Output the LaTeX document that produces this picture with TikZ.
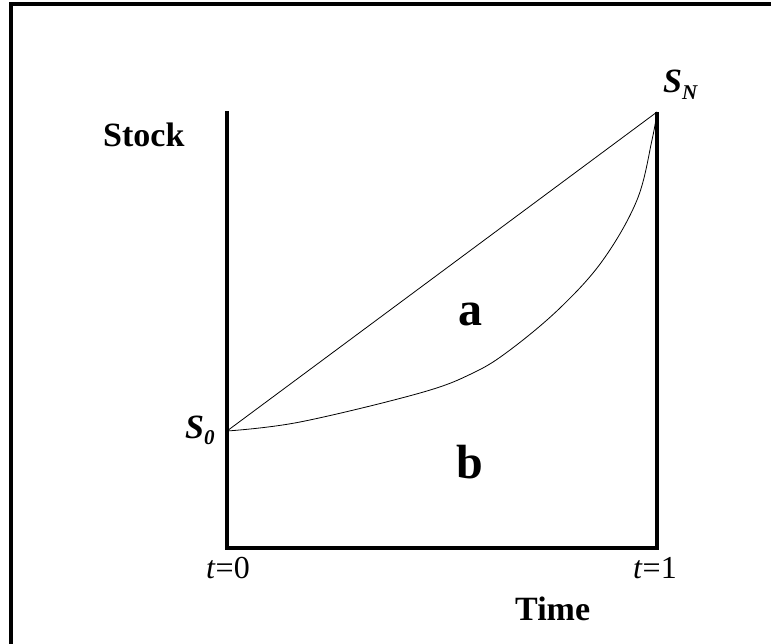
\documentclass[tikz,border=0pt]{standalone}
\usepackage{fontspec}
\setmainfont{Liberation Serif}
\usetikzlibrary{positioning}

\begin{document}
\begin{tikzpicture}[x=1pt,y=-1pt,
  axis/.style={line width=4pt, line join=miter},
  graph/.style={line width=0.8pt},
  lbl/.style={inner sep=0pt, anchor=base west},
  big/.style={lbl, font=\bfseries\fontsize{34}{34}\selectfont},
  area/.style={lbl, font=\bfseries\fontsize{48}{48}\selectfont},
  tick/.style={lbl, font=\fontsize{32}{32}\selectfont}]
\useasboundingbox (0,0) rectangle (771,644);
% frame (left and top only)
\draw[axis] (11,644) -- (11,4.5) -- (771,4.5);
% corners
\coordinate (ytop) at (227,111);
\coordinate (o) at (227,548);
\coordinate (e) at (657,548);
\coordinate (sn) at (657,112);
\coordinate (s0) at (227,431);
\draw[axis] (ytop) -- (o) -- (e) -- (sn);
% the two paths
\draw[graph] (s0) -- (sn);
\draw[graph] plot[smooth, tension=0.6] coordinates {(227,431) (300,422) (420,393) (473,373) (510,350) (560,308) (603,260) (637,200) (652,140) (657,112)};
% labels
\node[big] (stock) at (103,147) {Stock};
\node[big] (time) at (515,620) {Time};
\node[area] (a) at (458,325) {a};
\node[area] (b) at (456,478) {b};
\node[tick] (t0) at (206,578) {\textit{t}=0};
\node[tick] (t1) at (633,578) {\textit{t}=1};
\node[big] (S0) at (185,438) {\itshape S\raisebox{-0.2em}{\fontsize{21}{21}\selectfont 0}};
\node[big] (SN) at (663,93) {\itshape S\raisebox{-0.2em}{\fontsize{21}{21}\selectfont N}};
\end{tikzpicture}
\end{document}
